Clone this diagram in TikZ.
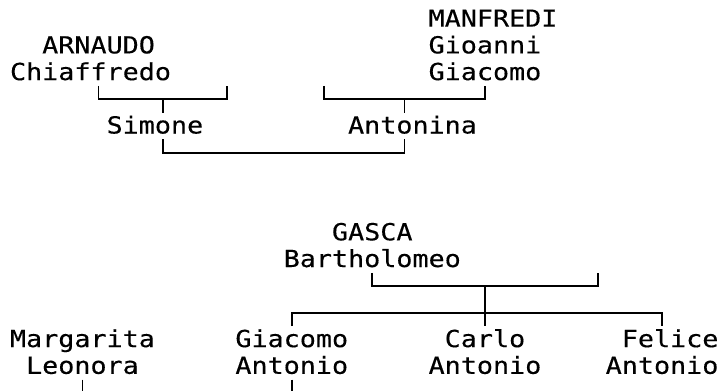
\documentclass[tikz,border=0pt]{standalone}
\usepackage{fontspec}
\newfontfamily\mono[FakeStretch=1.138,FakeBold=0.3]{DejaVu Sans Mono}
\tikzset{
  nm/.style={anchor=base west, inner sep=0pt, outer sep=0pt, text=black,
             font=\mono\fontsize{23.5}{26}\selectfont},
  lnk/.style={line width=1.8pt, draw=black, line join=miter},
}
% column centre, text start and row geometry (1 unit = 1pt = 1px)
\newcommand\cx[1]{18.05+16.1*(#1)}
\newcommand\tx[1]{10+16.1*(#1)}
\newcommand\bl[1]{26.7*(#1+1)}
\newcommand\hl[1]{26.7*(#1+1)-7.5}
\newcommand\tp[1]{26.7*(#1+1)-20.9}
\newcommand\bt[1]{26.7*(#1+1)+5.8}
\begin{document}
\begin{tikzpicture}[x=1pt,y=-1pt]
\useasboundingbox (0,0) rectangle (720,391);
% ---- names, upper tree
\node[nm] (manf)  at ({\tx{26}},{\bl{0}}) {MANFREDI};
\node[nm] (arn)   at ({\tx{2}},{\bl{1}})  {ARNAUDO};
\node[nm] (gioa)  at ({\tx{26}},{\bl{1}}) {Gioanni};
\node[nm] (chia)  at ({\tx{0}},{\bl{2}})  {Chiaffredo};
\node[nm] (giac)  at ({\tx{26}},{\bl{2}}) {Giacomo};
\node[nm] (sim)   at ({\tx{6}},{\bl{4}})  {Simone};
\node[nm] (anto)  at ({\tx{21}},{\bl{4}}) {Antonina};
% ---- names, lower tree
\node[nm] (gasca) at ({\tx{20}},{\bl{8}})  {GASCA};
\node[nm] (bart)  at ({\tx{17}},{\bl{9}})  {Bartholomeo};
\node[nm] (marg)  at ({\tx{0}},{\bl{12}})  {Margarita};
\node[nm] (giac2) at ({\tx{14}},{\bl{12}}) {Giacomo};
\node[nm] (carl)  at ({\tx{27}},{\bl{12}}) {Carlo};
\node[nm] (feli)  at ({\tx{38}},{\bl{12}}) {Felice};
\node[nm] (leon)  at ({\tx{1}},{\bl{13}})  {Leonora};
\node[nm] (ant1)  at ({\tx{14}},{\bl{13}}) {Antonio};
\node[nm] (ant2)  at ({\tx{26}},{\bl{13}}) {Antonio};
\node[nm] (ant3)  at ({\tx{37}},{\bl{13}}) {Antonio};
% ---- connector points
\coordinate (a1) at ({\cx{5}},{\tp{3}});
\coordinate (a2) at ({\cx{13}},{\tp{3}});
\coordinate (am) at ({\cx{9}},{\hl{3}});
\coordinate (ad) at ({\cx{9}},{\bt{3}});
\coordinate (m1) at ({\cx{19}},{\tp{3}});
\coordinate (m2) at ({\cx{29}},{\tp{3}});
\coordinate (mm) at ({\cx{24}},{\hl{3}});
\coordinate (md) at ({\cx{24}},{\bt{3}});
\coordinate (s1) at ({\cx{9}},{\tp{5}});
\coordinate (s2) at ({\cx{24}},{\tp{5}});
\coordinate (g1) at ({\cx{22}},{\tp{10}});
\coordinate (g2) at ({\cx{36}},{\tp{10}});
\coordinate (gm) at ({\cx{29}},{\hl{10}});
\coordinate (gd) at ({\cx{29}},{\bt{11}});
\coordinate (c1) at ({\cx{17}},{\bt{11}});
\coordinate (c2) at ({\cx{40}},{\bt{11}});
\coordinate (l1) at ({\cx{4}},{\tp{14}});
\coordinate (l1e) at ({\cx{4}},391);
\coordinate (l2) at ({\cx{17}},{\tp{14}});
\coordinate (l2e) at ({\cx{17}},391);
% ---- connectors
\draw[lnk] (a1) -- ++(0,13.4) -| (a2);
\draw[lnk] (am) -- (ad);
\draw[lnk] (m1) -- ++(0,13.4) -| (m2);
\draw[lnk] (mm) -- (md);
\draw[lnk] (s1) -- ++(0,13.4) -| (s2);
\draw[lnk] (g1) -- ++(0,13.4) -| (g2);
\draw[lnk] (gm) -- (gd);
\draw[lnk] (c1) -- ++(0,-13.3) -| (c2);
\draw[lnk] (l1) -- (l1e);
\draw[lnk] (l2) -- (l2e);
\end{tikzpicture}
\end{document}
